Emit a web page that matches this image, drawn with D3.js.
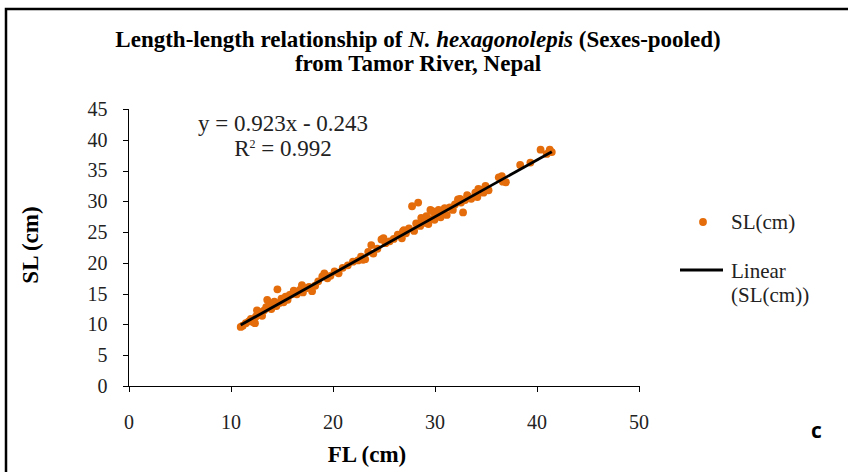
<!DOCTYPE html>
<html>
<head>
<meta charset="utf-8">
<title>Length-length relationship</title>
<style>
    body { margin: 0; background: white; }
    svg { display: block; font-family: "Liberation Serif", "Times New Roman", serif; }
    .axis path, .axis line { stroke: black; stroke-width: 1px; shape-rendering: crispEdges; }
    .axis text { font-family: "Liberation Serif", serif; font-size: 20px; fill: #222; }
</style>
</head>
<body>
<svg id="chart" width="848" height="472"></svg>
<script src="https://d3js.org/d3.v7.min.js"></script>
<script>
// FL (cm) and SL (cm)
var fl = [11.0, 11.2, 11.5, 11.8, 12.0, 12.2, 12.4, 12.5, 12.6, 12.8, 13.0, 13.1, 13.3, 13.5, 13.6, 13.8, 14.0, 14.1, 14.3, 14.5,
    14.6, 14.8, 15.0, 15.2, 15.4, 15.6, 15.8, 16.0, 16.2, 16.5, 16.8, 17.0, 17.1, 17.4, 17.7, 18.0, 18.3, 18.6, 19.0, 19.2,
    19.5, 19.8, 20.2, 20.6, 21.0, 21.5, 22.0, 22.5, 22.8, 23.0, 23.2, 23.5, 23.8, 24.0, 24.4, 24.8, 25.0, 25.2, 25.6, 26.0,
    26.4, 26.8, 26.9, 27.0, 27.2, 27.5, 27.8, 28.0, 28.2, 28.4, 28.6, 28.7, 28.8, 29.0, 29.2, 29.4, 29.6, 29.6, 29.8, 30.0,
    30.0, 30.2, 30.4, 30.6, 30.8, 31.0, 31.2, 31.5, 31.8, 32.0, 32.3, 32.5, 32.6, 32.8, 33.0, 33.2, 33.3, 33.6, 34.0, 34.2,
    34.3, 34.5, 34.8, 35.0, 35.3, 36.3, 36.6, 36.7, 37.0, 38.4, 39.4, 40.4, 41.0, 41.3, 41.5];
var sl = [9.6, 9.8, 10.2, 10.5, 10.9, 10.4, 10.2, 11.3, 12.3, 11.5, 12.0, 11.4, 12.3, 12.8, 14.0, 13.4, 12.5, 13.2, 13.7, 13.0,
    15.7, 13.5, 14.2, 13.6, 14.5, 14.0, 14.8, 14.9, 15.5, 14.9, 15.6, 16.4, 15.2, 15.9, 16.1, 15.4, 16.3, 17.0, 17.8, 18.3,
    17.5, 17.9, 18.6, 18.3, 19.2, 19.6, 20.2, 20.4, 21.0, 20.5, 20.6, 21.8, 22.9, 21.5, 22.3, 23.8, 24.0, 23.2, 23.5, 23.9,
    24.6, 24.0, 25.1, 25.3, 24.8, 25.6, 29.2, 25.2, 26.4, 29.8, 26.0, 27.3, 27.0, 26.5, 27.6, 26.3, 27.1, 28.6, 28.4, 27.0,
    27.3, 27.9, 28.6, 27.4, 28.3, 28.9, 27.8, 29.0, 28.6, 29.5, 30.3, 30.4, 29.8, 28.2, 30.2, 31.0, 30.8, 30.4, 31.4, 30.7,
    32.0, 31.9, 31.4, 32.5, 31.8, 33.9, 34.1, 33.2, 33.1, 35.9, 36.3, 38.4, 37.7, 38.4, 38.0];

var slope = 0.923, intercept = -0.243;
var xTicks = [0, 10, 20, 30, 40, 50];
var yTicks = [0, 5, 10, 15, 20, 25, 30, 35, 40, 45];

var svg = d3.select("#chart");

// frame (only top and left visible)
svg.append("path")
    .attr("d", "M6,472V9H848")
    .attr("fill", "none")
    .attr("stroke", "black")
    .attr("stroke-width", 2.5);

var x = d3.scaleLinear().domain([0, 50]).range([128.5, 638.5]);
var y = d3.scaleLinear().domain([0, 45]).range([386, 109]);

svg.append("g")
    .attr("class", "axis")
    .attr("transform", "translate(0,386)")
    .call(d3.axisBottom(x).tickValues(xTicks).tickSize(6).tickPadding(23))
    .call(function(g) { g.select(".domain").attr("d", "M128.5,0H638.5"); });

svg.append("g")
    .attr("class", "axis")
    .attr("transform", "translate(128.5,0)")
    .call(d3.axisLeft(y).tickValues(yTicks).tickSize(6).tickPadding(15))
    .call(function(g) { g.select(".domain").attr("d", "M0,386V109"); });

svg.selectAll(".axis text").attr("font-family", null).attr("font-size", null);

// points
svg.append("g")
    .selectAll("circle")
    .data(fl)
    .enter().append("circle")
    .attr("cx", function(d) { return x(d); })
    .attr("cy", function(d, i) { return y(sl[i]); })
    .attr("r", 3.9)
    .attr("fill", "#E46C0A");

// trend line
var xmin = d3.min(fl), xmax = d3.max(fl);
svg.append("line")
    .attr("x1", x(xmin)).attr("y1", y(slope * xmin + intercept))
    .attr("x2", x(xmax)).attr("y2", y(slope * xmax + intercept))
    .attr("stroke", "black")
    .attr("stroke-width", 2.8);

// title
var title = svg.append("text")
    .attr("x", 418).attr("y", 47)
    .attr("text-anchor", "middle")
    .attr("font-weight", "bold")
    .attr("font-size", 23);
title.append("tspan").text("Length-length relationship of ");
title.append("tspan").attr("font-style", "italic").text("N. hexagonolepis");
title.append("tspan").text(" (Sexes-pooled)");
svg.append("text")
    .attr("x", 418).attr("y", 71)
    .attr("text-anchor", "middle")
    .attr("font-weight", "bold")
    .attr("font-size", 23)
    .text("from Tamor River, Nepal");

// equation
svg.append("text")
    .attr("x", 283).attr("y", 131)
    .attr("text-anchor", "middle")
    .attr("font-size", 23)
    .attr("fill", "#222")
    .text("y = 0.923x - 0.243");
var r2 = svg.append("text")
    .attr("x", 283).attr("y", 156)
    .attr("text-anchor", "middle")
    .attr("font-size", 23)
    .attr("fill", "#222");
r2.append("tspan").text("R");
r2.append("tspan").attr("font-size", 12).attr("dy", -8).text("2");
r2.append("tspan").attr("dy", 8).text(" = 0.992");

// axis titles
svg.append("text")
    .attr("x", 367).attr("y", 462)
    .attr("text-anchor", "middle")
    .attr("font-weight", "bold")
    .attr("font-size", 23)
    .text("FL (cm)");
svg.append("text")
    .attr("transform", "translate(38,245) rotate(-90)")
    .attr("text-anchor", "middle")
    .attr("font-weight", "bold")
    .attr("font-size", 23)
    .text("SL (cm)");

// legend
svg.append("circle").attr("cx", 703).attr("cy", 222).attr("r", 3.9).attr("fill", "#E46C0A");
svg.append("text").attr("x", 731).attr("y", 229).attr("font-size", 21).attr("fill", "#222").text("SL(cm)");
svg.append("line").attr("x1", 680).attr("x2", 723).attr("y1", 270).attr("y2", 270)
    .attr("stroke", "black").attr("stroke-width", 2.8);
svg.append("text").attr("x", 731).attr("y", 278).attr("font-size", 21).attr("fill", "#222").text("Linear");
svg.append("text").attr("x", 731).attr("y", 302).attr("font-size", 21).attr("fill", "#222").text("(SL(cm))");

// panel letter
svg.append("text")
    .attr("x", 811).attr("y", 438)
    .attr("font-family", "'Open Sans', 'DejaVu Sans', sans-serif")
    .attr("font-weight", "bold")
    .attr("font-size", 21)
    .text("c");
</script>
</body>
</html>
